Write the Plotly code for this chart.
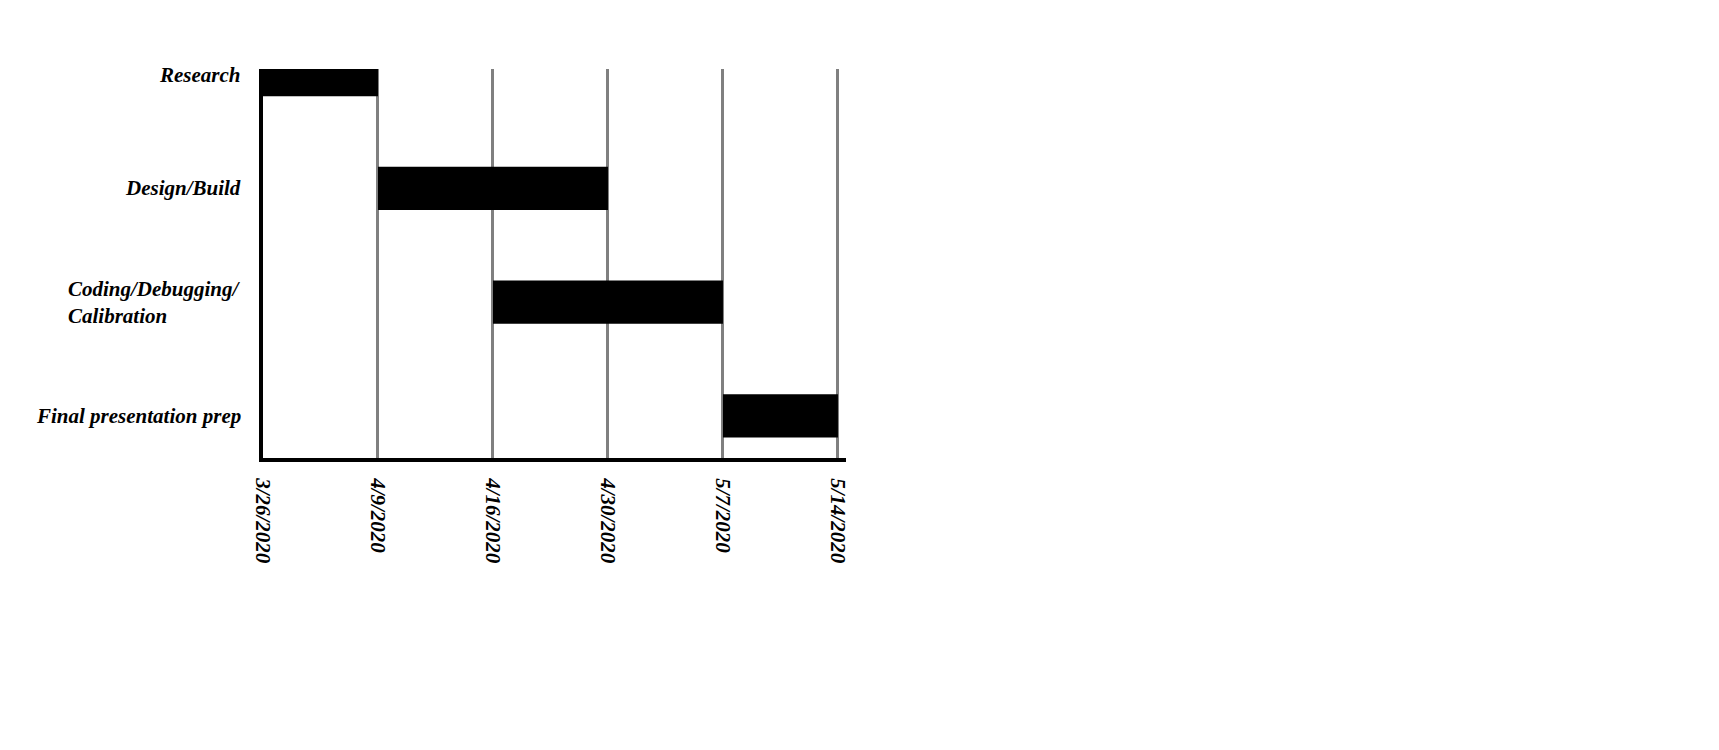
import plotly.graph_objects as go

# ---- data ----
milestones = ["3/26/2020", "4/9/2020", "4/16/2020", "4/30/2020", "5/7/2020", "5/14/2020"]
tasks = ["Research", "Design/Build", "Coding/Debugging/<br>Calibration", "Final presentation prep"]
task_start = ["3/26/2020", "4/9/2020", "4/16/2020", "5/7/2020"]
task_end = ["4/9/2020", "4/30/2020", "5/7/2020", "5/14/2020"]

start_idx = [milestones.index(s) for s in task_start]
end_idx = [milestones.index(e) for e in task_end]
durations = [e - s for s, e in zip(start_idx, end_idx)]

FONT = "Liberation Serif"

fig = go.Figure(
    go.Bar(
        y=tasks,
        x=durations,
        base=start_idx,
        orientation="h",
        marker=dict(color="black", line=dict(width=0)),
        width=0.38,
        hoverinfo="skip",
    )
)

for t in tasks:
    fig.add_annotation(
        x=0, xref="paper", y=t, yref="y",
        text=t, showarrow=False, xanchor="right", yanchor="middle",
        align="left", xshift=-20,
        font=dict(family=FONT, size=21, color="black", weight="bold", style="italic"),
    )

fig.update_xaxes(
    tickmode="array",
    tickvals=list(range(len(milestones))),
    ticktext=milestones,
    tickangle=90,
    tickfont=dict(family=FONT, size=21, color="black", weight="bold", style="italic"),
    ticklabelstandoff=12,
    range=[0, 5.07],
    showgrid=True, gridcolor="#808080", gridwidth=2.5,
    showline=True, linecolor="black", linewidth=4,
    zeroline=False, ticks="",
)
fig.update_yaxes(
    type="category",
    categoryorder="array", categoryarray=tasks,
    range=[3.37, -0.05],
    showticklabels=False,
    showgrid=False,
    showline=True, linecolor="black", linewidth=4,
    zeroline=False, ticks="",
)

fig.update_layout(
    width=1719, height=750,
    margin=dict(l=263, r=873, t=69, b=292),
    plot_bgcolor="white", paper_bgcolor="white",
    showlegend=False,
)

fig.write_html("out.html")
